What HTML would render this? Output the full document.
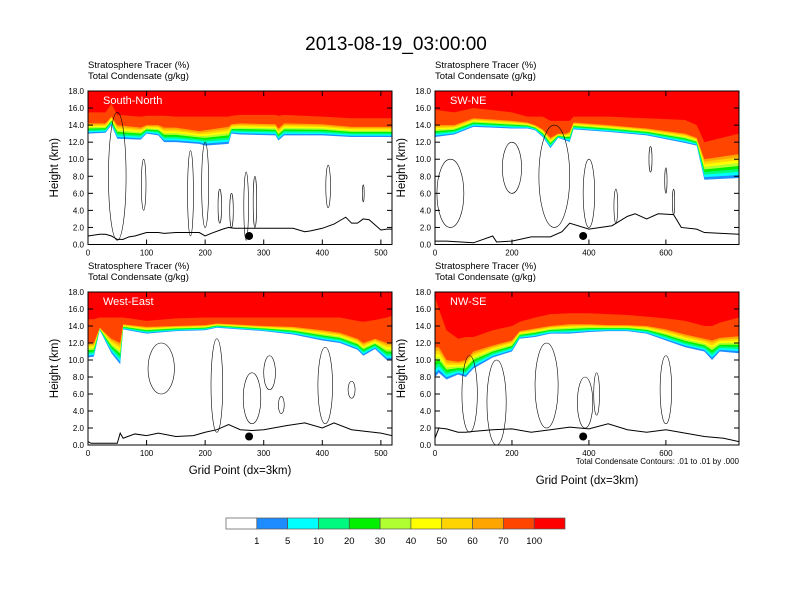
<!DOCTYPE html>
<html><head><meta charset="utf-8"><style>
body{margin:0;background:#fff}
svg{display:block;font-family:"Liberation Sans",sans-serif}
</style></head><body>
<svg id="c" width="792" height="612" viewBox="0 0 792 612"></svg>
<script>
const bandColors=["#1e8cff","#00ffff","#00fa80","#00f000","#b0ff30","#ffff00","#ffd400","#ffa500","#ff4500","#ff0000"];
const cbLabels=["1","5","10","20","30","40","50","60","70","100"];
const cbColors=["#ffffff","#1e8cff","#00ffff","#00fa80","#00f000","#b0ff30","#ffff00","#ffd400","#ffa500","#ff4500","#ff0000"];
// panel data
const tlX=[0,30,40,50,90,100,120,130,150,190,200,240,245,260,320,325,335,400,450,519];
const tlBase=[13,13.1,14,12.4,12.3,13,12.8,12,12,11.8,11.6,11.8,13,12.9,12.8,12.2,12.8,12.8,12.6,12.6];
const tlOr=[14.2,14.2,15,14,13.7,14,14,13.7,13.7,13.3,13.4,13.8,14.1,14.2,14.1,13.6,14.2,14.1,13.8,13.8];
const tlRed=[15.5,15.5,16.5,15.2,15,15.1,15.1,15.1,15,15,15,15,15.1,15.2,15.2,15.1,15.2,15,14.8,14.8];
const tlTX=[0,20,30,40,50,60,70,80,90,100,120,130,150,180,190,200,210,230,240,250,300,350,370,380,400,420,430,440,450,460,470,480,490,500,510,519];
const tlTH=[1,1.2,1.2,1,0.6,0.6,0.9,1,1.2,1.4,1.4,1.3,1.4,1.4,1.4,1.0,1.3,1.8,2,1.9,1.9,1.9,1.5,1.6,1.9,2.4,2.8,3.2,2.5,2.5,3,2.9,2.3,1.7,1.8,1.8];
const tlC=[[50,8,30,15],[95,7,8,6],[175,6,10,10],[200,7,12,10],[225,4.5,6,4],[245,4,6,4],[270,4.5,8,8],[285,5,6,6],[410,6.8,8,5],[470,6,3,2]];
const trX=[0,50,100,200,240,260,280,300,320,340,350,360,450,550,650,680,700,790];
const trBase=[12.6,12.9,13.8,13.6,13.6,13.4,12.6,11.3,12.5,12.2,12,13.5,13.2,12.8,11.9,11.6,7.6,7.8];
const trOr=[14,14,14.8,14.5,14.3,14,13.5,12.5,13,13,13.2,14.3,14,13.6,13,12.5,10,10.6];
const trRed=[15.8,15.5,16,15.5,15,15,15,14.5,14.5,14.5,14.5,15,15,14.8,14.6,14,12,13];
const trTX=[0,30,100,150,160,200,250,300,330,340,350,400,460,500,520,550,580,620,640,680,700,790];
const trTH=[0.4,0.4,0.2,1,0.3,0.4,0.9,0.9,1.5,2,2.5,1.8,2.2,3.3,3.6,3,3.6,3.5,2,1.8,1.4,1.2];
const trC=[[40,6,70,8],[200,9,50,6],[310,8,80,12],[400,6,30,8],[470,4.5,10,4],[560,10,8,3],[600,7.5,6,3],[620,5,6,3]];
const blX=[0,10,20,40,55,60,100,150,200,220,300,350,400,430,460,470,490,510,519];
const blBase=[10.3,10.4,13.5,10.8,9.5,13.6,13.1,13.4,13.5,13.8,13.4,13,12.3,12,11.2,10.5,11.3,10,10];
const blOr=[12,12,13.8,12.5,12,14.2,13.9,14,14.1,14.3,14,13.9,13.5,13.2,12.5,12,12.5,12,12];
const blRed=[14.8,14.8,15,15,15,15,14.6,14.9,15,15,15,15,15,15,14.6,14.5,14.7,15,15.2];
const blTX=[0,5,50,55,60,80,100,120,150,180,200,220,240,260,280,300,340,370,400,420,450,500,519];
const blTH=[0.4,0.2,0.2,1.4,0.8,1.3,1.1,1.4,1,1.1,1.5,1.8,2.4,1.8,1.7,1.8,2.3,2.6,2,2.6,1.8,1.4,1.1];
const blC=[[125,9,45,6],[220,7,20,11],[280,5.5,30,6],[310,8.5,20,4],[330,4.7,10,2],[405,7,25,9],[450,6.5,12,2]];
const brX=[0,10,30,60,80,100,150,200,220,260,300,350,400,450,500,550,600,650,700,720,740,790];
const brBase=[8,8.5,7.7,8.3,8,9,10.3,11,12.5,12.7,13.1,13.1,13.3,13.4,13.4,13.1,12.3,11.5,11,10,11,10.8];
const brOr=[11.5,11.5,10,9.8,10,11,11.7,12.3,13.4,13.7,14,14.2,14.2,14.1,14.1,14,13.6,13,12.5,12.3,12.6,12.8];
const brRed=[17.5,16,13.5,12.5,12.7,12.7,13.5,14,14.5,15,15.4,15.5,15.5,15.4,15.3,15.1,14.9,14.6,14,14,14.4,15];
const brTX=[0,10,30,60,80,100,150,200,250,300,350,400,450,500,550,600,650,700,750,790];
const brTH=[0.8,2,1.9,1.5,1.5,1.6,1.8,1.9,1.5,1.8,2.1,1.9,2.5,1.8,1.5,1.8,1.4,1.0,0.8,0.4];
const brC=[[90,6,40,9],[160,5,50,10],[290,7,60,10],[390,5,40,6],[420,6,15,5],[600,6.5,30,8]];
const yTicks=[0,2,4,6,8,10,12,14,16,18];

const svg=document.getElementById('c');const NS="http://www.w3.org/2000/svg";
function mk(t,a,p,txt){const e=document.createElementNS(NS,t);for(const k in a)e.setAttribute(k,a[k]);if(txt!==undefined)e.textContent=txt;(p||svg).appendChild(e);return e;}

function panel(o){
 const g=mk('g',{});
 
 
 const sx=v=>o.x0+(v/o.xmax)*(o.x1-o.x0), sy=h=>o.y1-(h/18)*(o.y1-o.y0);
 const cp='cp'+o.id;const d=mk('clipPath',{id:cp},g);mk('rect',{x:o.x0,y:o.y0,width:o.x1-o.x0,height:o.y1-o.y0},d);
 const bg=mk('g',{'clip-path':`url(#${cp})`},g);
 function lev(i,k){ if(k<=8)return o.base[i]+(o.or[i]-o.base[i])*k/8; return o.red[i];}
 for(let k=0;k<=9;k++){
  let pts=o.xs.map((x,i)=>`${sx(x)},${sy(lev(i,k))}`);
  const p=mk('polygon',{points:`${sx(0)},${o.y0} ${pts.join(' ')} ${sx(o.xmax)},${o.y0}`,fill:bandColors[k]},bg);
  
  
 }
 o.cont.forEach(c=>{const e=mk('ellipse',{cx:sx(c[0]),cy:sy(c[1]),rx:(c[2]/2)/o.xmax*(o.x1-o.x0),ry:c[3]/2/18*(o.y1-o.y0),fill:'none',stroke:'#000','stroke-width':0.6},bg);
  
  });
 let tp='';o.tx.forEach((x,i)=>{tp+=(i?' L':'M')+sx(x)+','+sy(o.th[i]);});
 const t=mk('path',{d:tp,fill:'none',stroke:'#000','stroke-width':1},bg);
 
 
 const dot=mk('circle',{cx:sx(o.dot),cy:sy(1),r:4,fill:'#000'},bg);
 
 
 mk('rect',{x:o.x0,y:o.y0,width:o.x1-o.x0,height:o.y1-o.y0,fill:'none',stroke:'#000','stroke-width':1},g);
 yTicks.forEach(v=>{const y=sy(v);mk('line',{x1:o.x0,x2:o.x0+5,y1:y,y2:y,stroke:'#000'},g);mk('line',{x1:o.x1,x2:o.x1-5,y1:y,y2:y,stroke:'#000'},g);
  const l=mk('text',{x:o.x0-4,y:y+3,'font-size':8,'text-anchor':'end'},g,v.toFixed(1));});
 o.xt.forEach(v=>{const x=sx(v);mk('line',{x1:x,x2:x,y1:o.y1,y2:o.y1-5,stroke:'#000'},g);mk('line',{x1:x,x2:x,y1:o.y0,y2:o.y0+5,stroke:'#000'},g);
  const l=mk('text',{x:x,y:o.y1+11,'font-size':8,'text-anchor':'middle'},g,v);});
 const yt=mk('text',{x:0,y:0,'font-size':11.5,'text-anchor':'middle',transform:`translate(${o.x0-30},${(o.y0+o.y1)/2}) rotate(-90)`},g,'Height (km)');
 
 const s1=mk('text',{x:o.x0,y:o.y0-23,'font-size':9.5},g,'Stratosphere Tracer   (%)');
 
 const s2=mk('text',{x:o.x0,y:o.y0-12,'font-size':9.5},g,'Total Condensate   (g/kg)');
 
 const lb=mk('text',{x:o.x0+15,y:o.y0+13,'font-size':11,fill:'#fff'},g,o.label);
 
 return g;
}
panel({id:1,name:'panel-south-north',label:'South-North',x0:88,x1:392,y0:91,y1:244.5,xmax:519,xt:[0,100,200,300,400,500],xs:tlX,base:tlBase,or:tlOr,red:tlRed,tx:tlTX,th:tlTH,cont:tlC,dot:275});
panel({id:2,name:'panel-sw-ne',label:'SW-NE',x0:435,x1:739,y0:91,y1:244.5,xmax:790,xt:[0,200,400,600],xs:trX,base:trBase,or:trOr,red:trRed,tx:trTX,th:trTH,cont:trC,dot:385});
panel({id:3,name:'panel-west-east',label:'West-East',x0:88,x1:392,y0:292,y1:445,xmax:519,xt:[0,100,200,300,400,500],xs:blX,base:blBase,or:blOr,red:blRed,tx:blTX,th:blTH,cont:blC,dot:275});
panel({id:4,name:'panel-nw-se',label:'NW-SE',x0:435,x1:739,y0:292,y1:445,xmax:790,xt:[0,200,400,600],xs:brX,base:brBase,or:brOr,red:brRed,tx:brTX,th:brTH,cont:brC,dot:385});
let e=mk('text',{x:396,y:50,'font-size':19,'text-anchor':'middle'},svg,'2013-08-19_03:00:00');

e=mk('text',{x:240,y:474,'font-size':11.5,'text-anchor':'middle'},svg,'Grid Point (dx=3km)');

e=mk('text',{x:587,y:484,'font-size':11.5,'text-anchor':'middle'},svg,'Grid Point (dx=3km)');

e=mk('text',{x:739,y:464,'font-size':8,'text-anchor':'end'},svg,'Total Condensate Contours: .01 to .01 by .000');

document.querySelectorAll('text').forEach(t=>t.setAttribute('xml:space','preserve'));
const cb=mk('g',{});
const cx0=226,cw=(565-226)/cbColors.length;
cbColors.forEach((c,i)=>{const r=mk('rect',{x:cx0+i*cw,y:518,width:cw,height:11,fill:c,stroke:'#555','stroke-width':0.7},cb);
 });
cbLabels.forEach((l,i)=>{const t=mk('text',{x:cx0+(i+1)*cw,y:544,'font-size':9.5,'text-anchor':'middle'},cb,l);
 });
</script>
</body></html>
